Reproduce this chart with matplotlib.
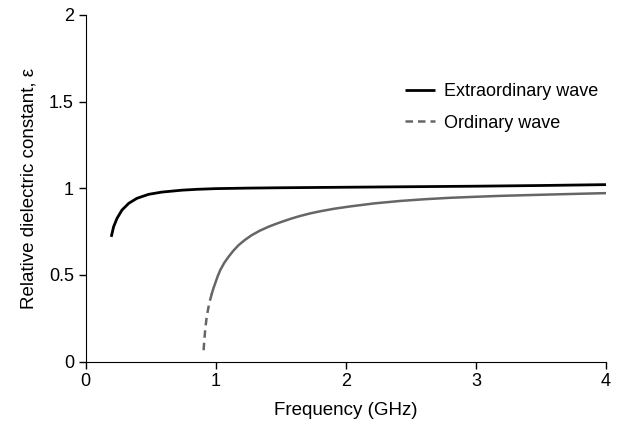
import matplotlib
matplotlib.use("Agg")
import matplotlib.pyplot as plt

plt.rcParams['font.family'] = ['Liberation Sans', 'DejaVu Sans']

# Extraordinary wave
freq_x = [0.196, 0.214, 0.24, 0.278, 0.33, 0.393, 0.483, 0.585, 0.739, 0.855,
          1.0, 1.25, 1.5, 2.0, 2.5, 3.0, 3.5, 4.0]
eps_x = [0.720, 0.778, 0.826, 0.874, 0.913, 0.942, 0.965, 0.978, 0.989, 0.994,
         0.998, 1.001, 1.003, 1.006, 1.009, 1.012, 1.016, 1.021]

# Ordinary wave, near cutoff (dashed part)
freq_o_cut = [0.906, 0.918, 0.93, 0.949, 0.97]
eps_o_cut = [0.066, 0.182, 0.259, 0.336, 0.394]

# Ordinary wave, above cutoff
freq_o = [0.97, 0.982, 0.995, 1.014, 1.034, 1.065, 1.098, 1.135, 1.175, 1.225,
          1.277, 1.34, 1.405, 1.46, 1.52, 1.58, 1.647, 1.725, 1.80, 1.91, 2.03,
          2.22, 2.42, 2.61, 2.80, 3.0, 3.18, 3.37, 3.57, 3.78, 4.0]
eps_o = [0.394, 0.424, 0.451, 0.492, 0.528, 0.570, 0.605, 0.640, 0.672, 0.703,
         0.730, 0.756, 0.778, 0.794, 0.810, 0.825, 0.840, 0.855, 0.867, 0.882,
         0.895, 0.913, 0.927, 0.937, 0.945, 0.951, 0.956, 0.960, 0.964, 0.968,
         0.972]

fig = plt.figure(figsize=(6.26, 4.25), dpi=100)
ax = fig.add_axes([0.137, 0.149, 0.831, 0.816])

ax.plot(freq_x, eps_x, color='black', lw=2.0, label='Extraordinary wave',
        solid_capstyle='butt', solid_joinstyle='round')
ax.plot(freq_o_cut, eps_o_cut, color='#666666', lw=1.8, ls=(0, (3, 2)),
        label='Ordinary wave')
ax.plot(freq_o, eps_o, color='#666666', lw=1.8, solid_joinstyle='round')

ax.set_xlim(0, 4)
ax.set_ylim(0, 2)
ax.set_xticks([0, 1, 2, 3, 4])
ax.set_xticklabels(['0', '1', '2', '3', '4'])
ax.set_yticks([0, 0.5, 1, 1.5, 2])
ax.set_yticklabels(['0', '0.5', '1', '1.5', '2'])
ax.spines['top'].set_visible(False)
ax.spines['right'].set_visible(False)
ax.tick_params(direction='out', length=5, width=1, labelsize=13)
ax.set_xlabel('Frequency (GHz)', fontsize=13.5, labelpad=8)
ax.set_ylabel('Relative dielectric constant, ε', fontsize=13.5, labelpad=8)

ax.legend(loc='upper left', bbox_to_anchor=(0.583, 0.85), frameon=False,
          fontsize=13, handlelength=1.67, handletextpad=0.45,
          labelspacing=0.8)

fig.savefig('out.png', dpi=100)
